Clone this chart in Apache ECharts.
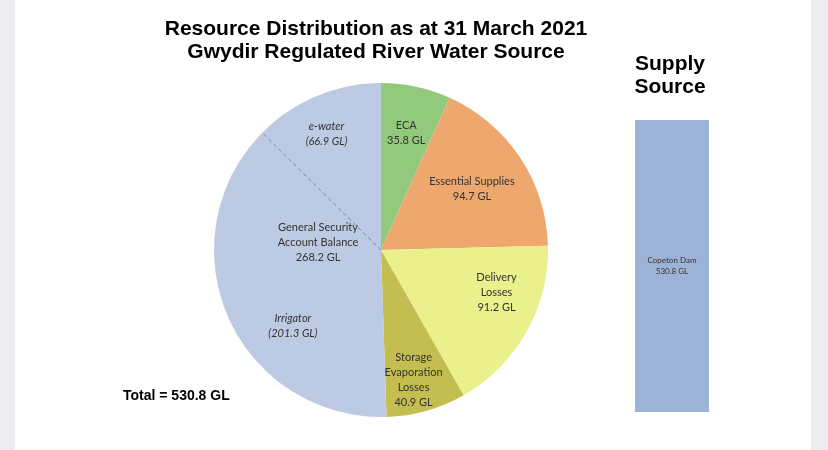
<!DOCTYPE html>
<html><head><meta charset="utf-8">
<script src="https://cdn.jsdelivr.net/npm/echarts@6/dist/echarts.min.js"></script>
<style>html,body{margin:0;padding:0;background:#fff}#c{width:828px;height:450px}</style>
</head><body><div id="c"></div>
<script>
const categories = ['ECA', 'Essential Supplies', 'Delivery Losses', 'Storage Evaporation Losses', 'General Security Account Balance'];
const labelTexts = ['ECA', 'Essential Supplies', 'Delivery\nLosses', 'Storage\nEvaporation\nLosses', 'General Security\nAccount Balance'];
const values = [35.8, 94.7, 91.2, 40.9, 268.2];
const gsSplitNames = ['Irrigator', 'e-water'];
const gsSplitValues = [201.3, 66.9];
const supplyNames = ['Copeton Dam'];
const supplyValues = [530.8];
const totalValue = 530.8;
const colors = ['#93c97c', '#eea86e', '#e9f08c', '#c4be50', '#bccbe3'];
// small label nudges (px) to match the reference placement
const labelOffsets = [[0, 0], [-9, 5], [11, -17], [0, 14], [2, -9]];
const splitOffsets = [[20, 29], [-9, -7]];

const CX = 381, CY = 250, R = 167;
const chart = echarts.init(document.getElementById('c'));
const none = 'rgba(0,0,0,0)';
const labelFont = { fontFamily: 'Lato', fontSize: 11, color: '#333', lineHeight: 15 };

const mainData = categories.map((n, i) => ({ name: n, value: values[i], itemStyle: { color: colors[i] } }));
const smallLabelData = categories.map((n, i) => ({
  name: n, value: values[i], itemStyle: { color: none },
  label: { show: i < 4, offset: labelOffsets[i], formatter: labelTexts[i] + '\n' + values[i] + ' GL' }
}));
const gsLabelData = categories.map((n, i) => ({
  name: n, value: values[i], itemStyle: { color: none },
  label: { show: i === 4, offset: labelOffsets[i], formatter: labelTexts[i] + '\n' + values[i] + ' GL' }
}));
const splitData = categories.slice(0, 4).map((n, i) => ({ name: n, value: values[i], itemStyle: { color: none }, label: { show: false } }))
  .concat(gsSplitNames.map((n, i) => ({
    name: n, value: gsSplitValues[i], itemStyle: { color: none },
    label: { show: true, fontStyle: 'italic', offset: splitOffsets[i], formatter: n + '\n(' + gsSplitValues[i] + ' GL)' }
  })));

// dashed divider between Irrigator and e-water, angle derived from data
const ang = -Math.PI / 2 - gsSplitValues[1] / totalValue * 2 * Math.PI;

const pieBase = { type: 'pie', center: [CX, CY], startAngle: 90, clockwise: true, silent: true, animation: false, labelLine: { show: false } };

chart.setOption({
  backgroundColor: '#fff',
  animation: false,
  graphic: [
    { type: 'rect', shape: { x: 0, y: 0, width: 15, height: 450 }, style: { fill: '#ececf1' }, z: -1 },
    { type: 'rect', shape: { x: 811, y: 0, width: 17, height: 450 }, style: { fill: '#ececf1' }, z: -1 },
    { type: 'line', z: 100, shape: { x1: CX, y1: CY, x2: CX + R * Math.cos(ang), y2: CY + R * Math.sin(ang) },
      style: { stroke: '#6a88b8', lineWidth: 1, lineDash: [4, 3] } },
    { type: 'text', x: 376, y: 18, style: { text: 'Resource Distribution as at 31 March 2021\nGwydir Regulated River Water Source', textAlign: 'center',
      font: 'bold 21px "Liberation Sans", Arial', fill: '#000', lineHeight: 23 } },
    { type: 'text', x: 670, y: 53, style: { text: 'Supply\nSource', textAlign: 'center',
      font: 'bold 21px "Liberation Sans", Arial', fill: '#000', lineHeight: 23 } },
    { type: 'text', x: 123, y: 389, style: { text: 'Total = ' + totalValue + ' GL',
      font: 'bold 14px "Liberation Sans", Arial', fill: '#000' } }
  ],
  grid: { left: 635, top: 120, width: 74, height: 292 },
  xAxis: { type: 'category', data: supplyNames, show: false },
  yAxis: { type: 'value', min: 0, max: supplyValues[0], show: false },
  series: [
    Object.assign({}, pieBase, { radius: [0, R], data: mainData, label: { show: false } }),
    Object.assign({}, pieBase, { radius: [67, R], data: smallLabelData, label: Object.assign({ position: 'inside' }, labelFont) }),
    Object.assign({}, pieBase, { radius: [0, 124], data: gsLabelData, label: Object.assign({ position: 'inside' }, labelFont) }),
    Object.assign({}, pieBase, { radius: [63, R], data: splitData, label: Object.assign({ position: 'inside' }, labelFont) }),
    { type: 'bar', data: supplyValues, barWidth: '100%', silent: true,
      itemStyle: { color: '#9db3d6' },
      label: { show: true, position: 'inside', formatter: p => p.name + '\n' + p.value + ' GL',
        fontFamily: 'Lato', fontSize: 8, color: '#333', lineHeight: 11 } }
  ]
});
</script></body></html>
